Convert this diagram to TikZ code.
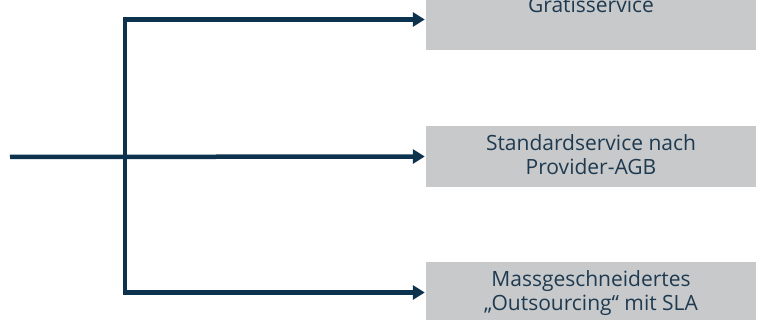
\documentclass[tikz,border=0pt]{standalone}
\usepackage{fontspec}
\setmainfont{Open Sans}
\usetikzlibrary{positioning, arrows.meta}
\definecolor{navy}{RGB}{12,50,78}
\definecolor{slate}{RGB}{30,58,80}
\definecolor{boxgray}{RGB}{200,201,203}

\begin{document}
\begin{tikzpicture}[
x=1pt, y=-1pt,
box/.style={rectangle, fill=boxgray, minimum width=330pt, minimum height=61pt, inner sep=0pt},
boxtext/.style={align=center, text=slate, font=\fontsize{21}{24.5}\selectfont, inner sep=0pt},
link/.style={draw=navy, line width=4.5pt},
arrow/.style={link, -{Triangle[length=12pt, width=14pt]}, shorten >=1pt},
]
\useasboundingbox (0,0) rectangle (763,320);

% Boxes
\node[box] (gratis) at (591,19.5) {};
\node[box] (standard) at (591,156.5) {};
\node[box] (mass) at (591,292.5) {};

% Texts
\node[boxtext, anchor=north] at ([yshift=-8.5pt]gratis.north) {Gratisservice};
\node[boxtext, anchor=north] at ([yshift=-8.5pt]standard.north) {Standardservice nach\\Provider-AGB};
\node[boxtext, anchor=north] at ([yshift=-8.5pt]mass.north) {Massgeschneidertes\\„Outsourcing“ mit SLA};

% Lines
\coordinate (start) at (10,157);
\coordinate (split) at (125,157);
\draw[arrow] (start) -- (standard.west);
\draw[arrow] (split) |- (gratis.west);
\draw[arrow] (split) |- (mass.west);

\end{tikzpicture}
\end{document}
